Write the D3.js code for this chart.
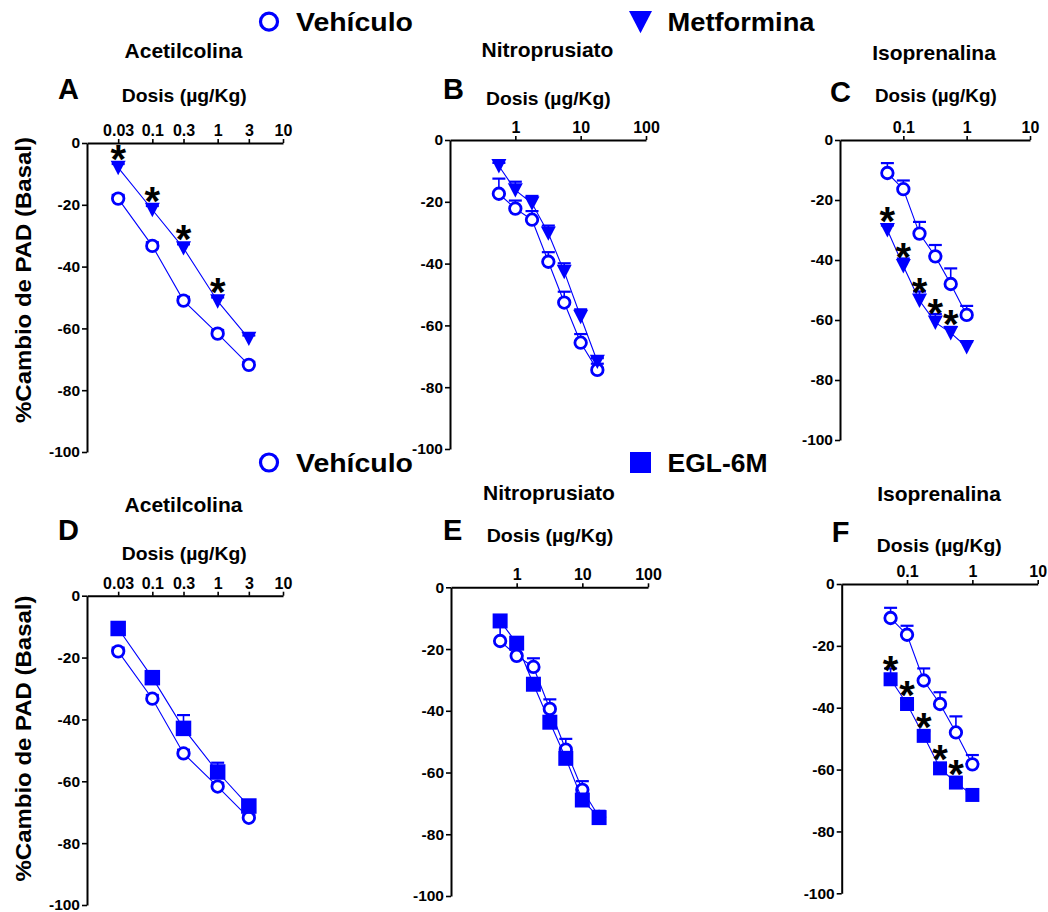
<!DOCTYPE html>
<html>
<head>
<meta charset="utf-8">
<script src="https://cdn.jsdelivr.net/npm/d3@7"></script>
<style>
  html, body { margin: 0; padding: 0; background: #fff; }
  svg { display: block; }
</style>
</head>
<body>
<svg id="fig" width="1048" height="912"></svg>
<script>
// ---- Doses (µg/Kg) ----
const doseACh = [0.03, 0.1, 0.3, 1, 3];
const doseSNP = [0.56, 1, 1.8, 3.2, 5.6, 10, 18];
const doseISO = [0.056, 0.1, 0.18, 0.32, 0.56, 1];

// ---- Acetilcolina: % change of diastolic pressure (mean, SEM) ----
const achVehMean = [-18, -33.3, -51, -61.7, -71.8];
const achVehSem  = [1.2, 1.2, 1.2, 1.2, 1.0];
const achMetMean = [-8, -21.6, -34, -51.2, -63.3];
const achMetSem  = [1.2, 1.2, 1.2, 1.2, 1.0];
const achEglMean = [-10.6, -26.5, -42.9, -57, -68];
const achEglSem  = [1.0, 1.5, 4.3, 3.0, 1.6];

// ---- Nitroprusiato ----
const snpVehMean = [-17.4, -22.2, -25.8, -39.4, -52.6, -65.6, -74.4];
const snpVehSem  = [4.9, 2.6, 2.8, 3.1, 3.5, 2.8, 2.0];
const snpMetMean = [-8.4, -16.2, -20.5, -30.2, -42.6, -57.2, -71.7];
const snpMetSem  = [1.0, 2.7, 2.4, 2.5, 2.7, 2.4, 1.1];
const snpEglMean = [-10.9, -18.1, -31.4, -43.7, -55.4, -68.9, -74.6];
const snpEglSem  = [1.5, 1.8, 1.8, 1.8, 1.8, 1.8, 1.5];

// ---- Isoprenalina ----
const isoVehMean = [-11, -16.4, -31.2, -38.8, -48, -58.3];
const isoVehSem  = [3.3, 2.9, 3.9, 3.8, 5.2, 3.0];
const isoMetMean = [-30, -42, -53.5, -60.8, -64.3, -69];
const isoMetSem  = [1.5, 2.5, 3.0, 2.8, 2.0, 1.8];
const isoEglMean = [-30.8, -38.8, -49.1, -59.6, -64.2, -68.2];
const isoEglSem  = [3.5, 1.5, 1.5, 1.5, 1.5, 1.0];

// ---- Doses marked as significant vs. vehicle (indices) ----
const sigAChMet = [0, 1, 2, 3];
const sigISOMet = [0, 1, 2, 3, 4];
const sigISOEgl = [0, 1, 2, 3, 4];

// ---- Tick labels and text ----
const ticksACh = [0.03, 0.1, 0.3, 1, 3, 10];
const ticksSNP = [1, 10, 100];
const ticksISO = [0.1, 1, 10];
const ticksY   = [0, -20, -40, -60, -80, -100];
const drugNames  = ["Acetilcolina", "Nitroprusiato", "Isoprenalina"];
const groupNames = ["Vehículo", "Metformina", "EGL-6M"];
const panelLetters = ["A", "B", "C", "D", "E", "F"];
const doseLabel = "Dosis (µg/Kg)";
const yLabel = "%Cambio de PAD (Basal)";

const BLUE = "#0000ff";
const FONT = "'Liberation Sans', Arial, Helvetica, sans-serif";
const svg = d3.select("#fig");

// text helper: bold sans text, optional forced width
function label(g, s, x, y, size, opts = {}) {
  const t = g.append("text")
    .attr("x", x).attr("y", y)
    .attr("font-family", FONT)
    .attr("font-weight", "bold")
    .attr("font-size", size)
    .attr("fill", "#000")
    .attr("text-anchor", opts.anchor || "start")
    .text(s);
  if (opts.width) t.attr("textLength", opts.width).attr("lengthAdjust", "spacingAndGlyphs");
  if (opts.transform) t.attr("transform", opts.transform);
  return t;
}

// marker paths
function markerPath(kind, s) {
  const h = s / 2;
  if (kind === "circle") return d3.symbol(d3.symbolCircle, Math.PI * h * h)();
  if (kind === "tri") return `M${-h},${-h * 0.92}L${h},${-h * 0.92}L0,${h}Z`;
  return `M${-h},${-h}H${h}V${h}H${-h}Z`;
}
function drawMarker(g, kind, s, x, y, strokeW) {
  const p = g.append("path")
    .attr("d", markerPath(kind, s))
    .attr("transform", `translate(${x},${y})`);
  if (kind === "circle") {
    p.attr("fill", "#fff").attr("stroke", BLUE).attr("stroke-width", strokeW || 2.8);
  } else {
    p.attr("fill", BLUE);
  }
  return p;
}

const panels = [
  { letter: 0, drug: 0, x0: 87,  x1: 283,  y0: 143,   y1: 452,   dom: [0.01, 10],  ticks: ticksACh,
    dose: doseACh, series: [[achVehMean, achVehSem, "circle"], [achMetMean, achMetSem, "tri"]], sig: sigAChMet,
    title: [183.5, 58], let: [58, 99], dos: [121.7, 101.7, 125], ylab: [31, 280], msize: 15 },
  { letter: 1, drug: 1, x0: 450, x1: 646,  y0: 140,   y1: 449,   dom: [0.1, 100],  ticks: ticksSNP,
    dose: doseSNP, series: [[snpVehMean, snpVehSem, "circle"], [snpMetMean, snpMetSem, "tri"]], sig: [],
    title: [547.5, 57], let: [443, 99], dos: [486, 105, 124.7], msize: 15 },
  { letter: 2, drug: 2, x0: 840, x1: 1030, y0: 140,   y1: 440,   dom: [0.01, 10],  ticks: ticksISO,
    dose: doseISO, series: [[isoVehMean, isoVehSem, "circle"], [isoMetMean, isoMetSem, "tri"]], sig: sigISOMet,
    title: [934, 60], let: [830, 101.7], dos: [875, 102, 121.7], msize: 15 },
  { letter: 3, drug: 0, x0: 87,  x1: 283,  y0: 595.7, y1: 905,   dom: [0.01, 10],  ticks: ticksACh,
    dose: doseACh, series: [[achVehMean, achVehSem, "circle"], [achEglMean, achEglSem, "sq"]], sig: [],
    title: [183.5, 512], let: [58, 540], dos: [121.7, 560, 125], ylab: [31, 738.5], msize: 15.5 },
  { letter: 4, drug: 1, x0: 451, x1: 648,  y0: 587.3, y1: 896,   dom: [0.1, 100],  ticks: ticksSNP,
    dose: doseSNP, series: [[snpVehMean, snpVehSem, "circle"], [snpEglMean, snpEglSem, "sq"]], sig: [],
    title: [549, 500], let: [443, 540], dos: [486.7, 542, 126.7], msize: 15 },
  { letter: 5, drug: 2, x0: 841.7, x1: 1037.7, y0: 584, y1: 893.3, dom: [0.01, 10], ticks: ticksISO,
    dose: doseISO, series: [[isoVehMean, isoVehSem, "circle"], [isoEglMean, isoEglSem, "sq"]], sig: sigISOEgl,
    title: [939, 500.7], let: [831.7, 541.7], dos: [876.7, 552, 125], msize: 14 }
];

panels.forEach(p => {
  const g = svg.append("g");
  const x = d3.scaleLog().domain(p.dom).range([p.x0, p.x1]);
  const y = d3.scaleLinear().domain([0, -100]).range([p.y0, p.y1]);

  // titles
  label(g, drugNames[p.drug], p.title[0], p.title[1], 21, { anchor: "middle" });
  label(g, panelLetters[p.letter], p.let[0], p.let[1], 29);
  label(g, doseLabel, p.dos[0], p.dos[1], 18, { width: p.dos[2] });
  if (p.ylab) {
    label(g, yLabel, 0, 0, 22, { anchor: "middle", width: 286,
      transform: `translate(${p.ylab[0]},${p.ylab[1]}) rotate(-90)` });
  }

  // axes
  const ax = g.append("g").attr("transform", `translate(0,${p.y0})`)
    .call(d3.axisTop(x).tickValues(p.ticks).tickFormat(d => String(d)).tickSize(4).tickSizeOuter(0).tickPadding(3));
  const ay = g.append("g").attr("transform", `translate(${p.x0},0)`)
    .call(d3.axisLeft(y).tickValues(ticksY).tickFormat(d => String(d)).tickSize(5).tickSizeOuter(0).tickPadding(2));
  [ax, ay].forEach(a => {
    a.attr("font-family", FONT).attr("font-weight", "bold").attr("font-size", 16);
    a.selectAll("path.domain").attr("stroke", "#000").attr("stroke-width", 2);
    a.selectAll(".tick line").attr("stroke", "#000").attr("stroke-width", 1.6);
    a.selectAll(".tick text").attr("fill", "#000");
  });
  ay.selectAll(".tick text").attr("font-size", 15.5);

  // series: error bars, connecting lines, markers
  p.series.forEach(([mean, sem, kind]) => {
    const pts = p.dose.map((d, i) => ({ d, m: mean[i], e: sem[i] }));
    const eb = g.append("g").attr("stroke", BLUE);
    pts.forEach(q => {
      const cx = x(q.d), top = y(q.m + q.e);
      eb.append("line").attr("x1", cx).attr("x2", cx).attr("y1", y(q.m)).attr("y2", top).attr("stroke-width", 1.6);
      eb.append("line").attr("x1", cx - 6.5).attr("x2", cx + 6.5).attr("y1", top).attr("y2", top).attr("stroke-width", 2.2);
    });
    g.append("path").datum(pts)
      .attr("fill", "none").attr("stroke", BLUE).attr("stroke-width", 1.1)
      .attr("d", d3.line().x(q => x(q.d)).y(q => y(q.m)));
    pts.forEach(q => drawMarker(g, kind, kind === "circle" ? 11.5 : p.msize, x(q.d), y(q.m)));
  });

  // significance asterisks above the treated series
  const treated = p.series[1][0];
  p.sig.forEach(i => {
    g.append("text")
      .attr("x", x(p.dose[i])).attr("y", y(treated[i]) + 5)
      .attr("text-anchor", "middle")
      .attr("font-family", FONT).attr("font-weight", "bold").attr("font-size", 40)
      .attr("fill", "#000").text("*");
  });
});

// ---- legends ----
const leg = svg.append("g");
function legendRow(yc, kind, secondName, secondW) {
  drawMarker(leg, "circle", 17, 269, yc, 3.2);
  label(leg, groupNames[0], 296, yc + 9.5, 26, { width: 117 });
  drawMarker(leg, kind, kind === "tri" ? 23 : 21, 640.5, yc, 0);
  label(leg, secondName, 667.5, yc + 9.5, 26, { width: secondW });
}
legendRow(21.7, "tri", groupNames[1], 147);
legendRow(462.5, "sq", groupNames[2], 100);
</script>
</body>
</html>
